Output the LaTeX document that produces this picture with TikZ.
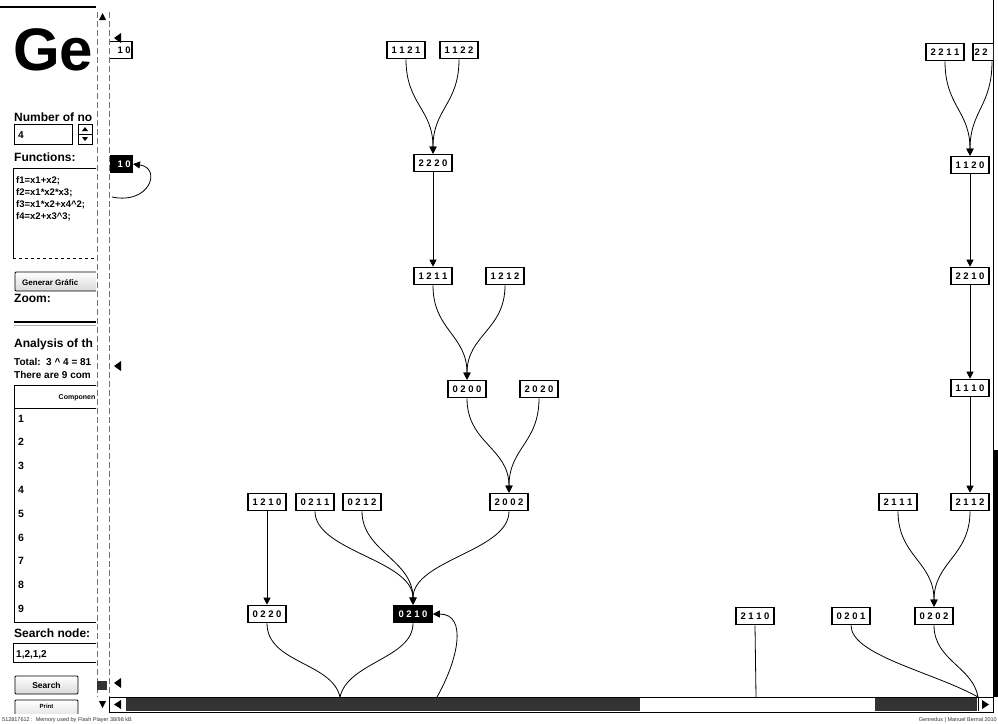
\documentclass[tikz,border=0pt]{standalone}
\usepackage{fontspec}
\setmainfont{Liberation Sans}
\usetikzlibrary{arrows.meta}
\newcommand\gsp{\kern2.6pt}
\begin{document}
\begin{tikzpicture}[x=1pt,y=-1pt,
  gnode/.style={draw,line width=1.6pt,fill=white,minimum width=38pt,minimum height=17pt,inner sep=0pt,font=\fontsize{9.5}{9.5}\selectfont\bfseries},
  selnode/.style={gnode,fill=black,text=white},
  edge/.style={line width=0.8pt},
  arr/.style={edge,-{Triangle[length=7pt,width=7pt]}},
  lbl/.style={anchor=base west,inner sep=0pt,font=\fontsize{12}{12}\selectfont\bfseries},
  sml/.style={anchor=base west,inner sep=0pt,font=\fontsize{10}{10}\selectfont\bfseries},
  btn/.style={draw,line width=0.9pt,rounded corners=1pt,top color=white,bottom color=black!15},
  tri/.style={fill=black}]
\useasboundingbox (0,0) rectangle (998,723);
\fill[white] (0,0) rectangle (998,723);

% ---------------- left panel ----------------
\begin{scope}
\clip (0,0) rectangle (96,723);
\draw[line width=1.5pt] (0,7) -- (96,7);
\node[anchor=base west,inner sep=0pt,font=\fontsize{60}{60}\selectfont\bfseries] (title) at (13,70) {Ge};
\node[lbl] (lnum) at (14,121) {Number of no};
\draw[line width=0.9pt] (14,124) rectangle (72,144);
\node[sml] (vnum) at (18,138) {4};
\draw[line width=0.9pt] (78,124) rectangle (92,144);
\draw[line width=0.6pt] (78,134) -- (92,134);
\fill (85,127) -- (82,131) -- (88,131) -- cycle;
\fill (85,141) -- (82,137) -- (88,137) -- cycle;
\node[lbl] (lfun) at (14,161) {Functions:};
\draw[line width=0.9pt] (13,258) -- (13,168) -- (102,168);
\draw[line width=0.9pt,dashed] (13,258) -- (102,258);
\node[sml,font=\fontsize{9.5}{9.5}\selectfont\bfseries] (f1) at (16,183) {f1=x1+x2;};
\node[sml,font=\fontsize{9.5}{9.5}\selectfont\bfseries] (f2) at (16,195) {f2=x1*x2*x3;};
\node[sml,font=\fontsize{9.5}{9.5}\selectfont\bfseries] (f3) at (16,207) {f3=x1*x2+x4\^{}2;};
\node[sml,font=\fontsize{9.5}{9.5}\selectfont\bfseries] (f4) at (16,219) {f4=x2+x3\^{}3;};
\draw[btn] (15,272) rectangle (104,291);
\node[sml,font=\fontsize{8}{8}\selectfont\bfseries] (bgen) at (22,285) {Generar Gráfic};
\node[lbl] (lzoom) at (14,302) {Zoom:};
\draw[line width=2pt] (14,322) -- (96,322);
\draw[line width=1pt,black!30] (14,325) -- (96,325);
\node[lbl] (lana) at (14,347) {Analysis of th};
\node[sml] (ltot) at (14,365) {Total:\ \ 3 \^{} 4 = 81};
\node[sml] (lthere) at (14,378) {There are 9 com};
\draw[line width=0.9pt] (14,622) -- (14,385) -- (100,385);
\draw[line width=0.9pt] (14,408) -- (100,408);
\draw[line width=0.9pt] (14,622) -- (100,622);
\node[anchor=base,inner sep=0pt,font=\fontsize{7}{7}\selectfont\bfseries] (lcomp) at (77,399) {Componen};
\foreach \i/\yy in {1/418,2/441,3/465,4/489,5/513,6/537,7/560,8/584,9/608}
  \node[sml,font=\fontsize{10.5}{10.5}\selectfont\bfseries] (row\i) at (18,\yy+4) {\i};
\node[lbl] (lsearch) at (14,637) {Search node:};
\draw[line width=0.9pt] (13,643) rectangle (104,662);
\node[sml] (vsearch) at (16,657) {1,2,1,2};
\draw[btn] (15,676) rectangle (78,694);
\node[anchor=center,inner sep=0pt,font=\fontsize{8.5}{8.5}\selectfont\bfseries] (bsearch) at (46.5,685) {Search};
\draw[btn] (15,700) rectangle (78,722);
\node[anchor=center,inner sep=0pt,font=\fontsize{6}{6}\selectfont\bfseries] (bprint) at (46.5,706) {Print};
\end{scope}

% ---------------- vertical scrollbar ----------------
\draw[black!55,line width=0.7pt,dash pattern=on 6pt off 3pt] (97,12) -- (97,697);
\draw[black!55,line width=0.7pt,dash pattern=on 6pt off 3pt] (109,12) -- (109,697);
\fill (102.5,13) -- (99,20) -- (106,20) -- cycle;
\fill (102.5,708) -- (99,701) -- (106,701) -- cycle;
\fill[black!80] (97,681) rectangle (107,690);

% ---------------- horizontal scrollbar ----------------
\draw[line width=0.8pt] (109,697) rectangle (993,712);
\fill (114,704.5) -- (121,700) -- (121,709) -- cycle;
\fill[black!80] (126,698) rectangle (640,711);
\fill[black!80] (875,698) rectangle (977,711);
\draw[line width=0.6pt] (978,698) -- (978,711);
\fill (989,704.5) -- (982,700) -- (982,709) -- cycle;

% ---------------- right border ----------------
\draw[line width=0.9pt] (993,0) -- (993,697);
\fill (994,450) rectangle (998,697);

% ---------------- graph ----------------
\begin{scope}
\clip (110,0) rectangle (993,697);
\node[gnode,anchor=east,text width=35pt,align=right] (n10) at (133,50) {1\gsp0};
\node[selnode,anchor=east,text width=35pt,align=right] (nloop) at (133,164) {1\gsp0};
\node[gnode] (n1121) at (406,50) {1\gsp1\gsp2\gsp1};
\node[gnode] (n1122) at (459,50) {1\gsp1\gsp2\gsp2};
\node[gnode] (n2220) at (433,163) {2\gsp2\gsp2\gsp0};
\node[gnode] (n1211) at (433,276) {1\gsp2\gsp1\gsp1};
\node[gnode] (n1212) at (505,276) {1\gsp2\gsp1\gsp2};
\node[gnode] (n0200) at (467,389) {0\gsp2\gsp0\gsp0};
\node[gnode] (n2020) at (539,389) {2\gsp0\gsp2\gsp0};
\node[gnode] (n1210) at (267,502) {1\gsp2\gsp1\gsp0};
\node[gnode] (n0211) at (315,502) {0\gsp2\gsp1\gsp1};
\node[gnode] (n0212) at (362,502) {0\gsp2\gsp1\gsp2};
\node[gnode] (n2002) at (509,502) {2\gsp0\gsp0\gsp2};
\node[gnode] (n0220) at (267,614) {0\gsp2\gsp2\gsp0};
\node[selnode] (nsel) at (413,614) {0\gsp2\gsp1\gsp0};
\node[gnode] (n2110) at (755,616) {2\gsp1\gsp1\gsp0};
\node[gnode] (n0201) at (851,616) {0\gsp2\gsp0\gsp1};
\node[gnode] (n0202) at (934,616) {0\gsp2\gsp0\gsp2};
\node[gnode] (n2111) at (898,502) {2\gsp1\gsp1\gsp1};
\node[gnode] (n2112) at (970,502) {2\gsp1\gsp1\gsp2};
\node[gnode] (n2211) at (945,52) {2\gsp2\gsp1\gsp1};
\node[gnode,text width=35pt,align=left] (n22) at (992,52) {2\gsp2};
\node[gnode] (n1120) at (970,165) {1\gsp1\gsp2\gsp0};
\node[gnode] (n2210) at (970,276) {2\gsp2\gsp1\gsp0};
\node[gnode] (n1110) at (970,388) {1\gsp1\gsp1\gsp0};

\coordinate (cloop) at (112,197);
\coordinate (b1) at (340,697);
\coordinate (b2) at (437,697);
\coordinate (b3) at (756,697);
\coordinate (b4) at (978,697);

\draw[arr] (cloop) .. controls (150,205) and (162,168) .. (nloop.east);
\draw[arr] (n1121.south) .. controls +(0,45) and +(0,-45) .. (n2220.north);
\draw[arr] (n1122.south) .. controls +(0,45) and +(0,-45) .. (n2220.north);
\draw[arr] (n2220.south) -- (n1211.north);
\draw[arr] (n1211.south) .. controls +(0,45) and +(0,-45) .. (n0200.north);
\draw[arr] (n1212.south) .. controls +(0,45) and +(0,-45) .. (n0200.north);
\draw[arr] (n0200.south) .. controls +(0,45) and +(0,-45) .. (n2002.north);
\draw[arr] (n2020.south) .. controls +(0,45) and +(0,-45) .. (n2002.north);
\draw[arr] (n0211.south) .. controls +(0,40) and +(0,-45) .. (nsel.north);
\draw[arr] (n0212.south) .. controls +(0,40) and +(0,-45) .. (nsel.north);
\draw[arr] (n2002.south) .. controls +(0,40) and +(0,-45) .. (nsel.north);
\draw[arr] (n1210.south) -- (n0220.north);
\draw[edge] (n0220.south) .. controls +(0,40) and +(-8,-35) .. (b1);
\draw[edge] (nsel.south) .. controls +(0,35) and +(8,-35) .. (b1);
\draw[arr] (b2) .. controls (458,660) and (468,614) .. (nsel.east);
\draw[edge] (n2110.south) -- (b3);
\draw[edge] (n0201.south) .. controls +(0,30) and +(-45,-25) .. (b4);
\draw[edge] (n0202.south) .. controls +(0,35) and +(-5,-30) .. (b4);
\draw[arr] (n2211.south) .. controls +(0,45) and +(0,-45) .. (n1120.north);
\draw[arr] (n22.south) .. controls +(0,45) and +(0,-45) .. (n1120.north);
\draw[arr] (n1120.south) -- (n2210.north);
\draw[arr] (n2210.south) -- (n1110.north);
\draw[arr] (n1110.south) -- (n2112.north);
\draw[arr] (n2111.south) .. controls +(0,45) and +(0,-45) .. (n0202.north);
\draw[arr] (n2112.south) .. controls +(0,45) and +(0,-45) .. (n0202.north);
\end{scope}

% small left markers
\fill (114,38) -- (121,33) -- (121,43) -- cycle;
\fill (114,366) -- (121,361) -- (121,371) -- cycle;
\fill (114,683) -- (121,678) -- (121,688) -- cycle;

% ---------------- status line ----------------
\fill[white] (0,714) rectangle (998,723);
\node[anchor=base west,inner sep=0pt,font=\fontsize{5.5}{5.5}\selectfont,text=black!80] (st1) at (2,721) {512817612 :\ \ Memory used by Flash Player 38/98 kB};
\node[anchor=base east,inner sep=0pt,font=\fontsize{5.5}{5.5}\selectfont,text=black!80] (st2) at (997,721) {Genredus | Manuel Bernal 2010};
\end{tikzpicture}
\end{document}
